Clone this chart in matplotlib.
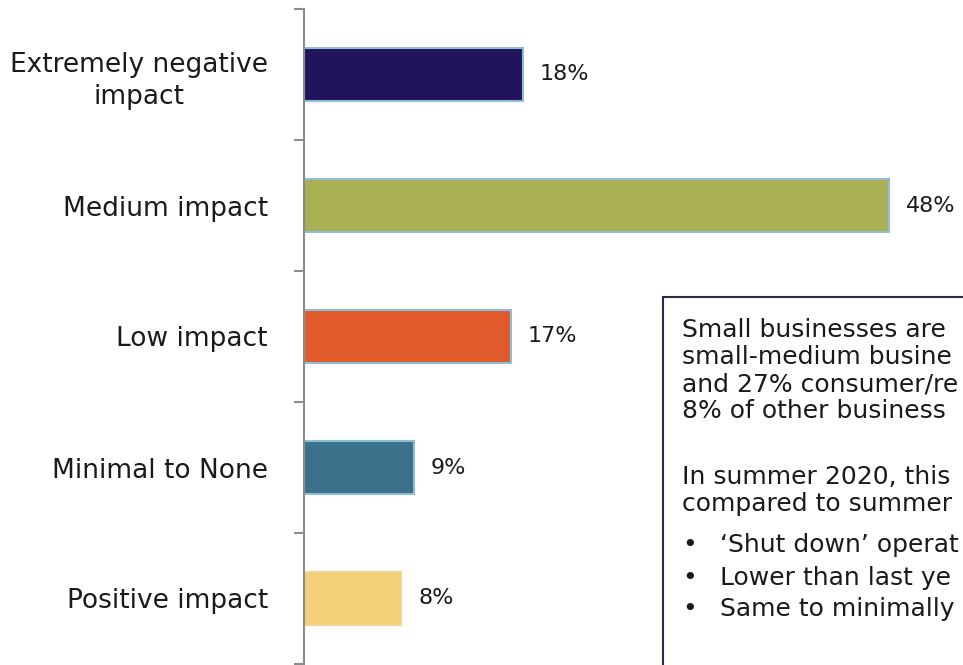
import matplotlib
matplotlib.use("Agg")
import matplotlib.pyplot as plt
from matplotlib.patches import Rectangle

categories = ["Extremely negative\nimpact", "Medium impact", "Low impact",
              "Minimal to None", "Positive impact"]
values = [18, 48, 17, 9, 8]
value_labels = ["18%", "48%", "17%", "9%", "8%"]
colors = ["#21135e", "#a8b053", "#e05a2b", "#3b728b", "#f2d07a"]
edges = ["#8fbcd6", "#8fbcd6", "#8fbcd6", "#8fbcd6", "#f2d58a"]

# text of the note box, as far as it is visible in the (cropped) reference
box_paragraph1 = ["Small businesses are", "small-medium busine",
                  "and 27% consumer/re", "8% of other business"]
box_paragraph2 = ["In summer 2020, this", "compared to summer"]
box_bullets = ["\u2018Shut down\u2019 operat", "Lower than last ye",
               "Same to minimally"]

FONT = "DejaVu Sans"
W, H = 963, 665
fig = plt.figure(figsize=(W / 100, H / 100), dpi=100)
ax = fig.add_axes([304 / W, 1 / H, 658 / W, 655 / H])

y = list(range(len(categories)))
ax.barh(y, values, height=0.4, color=colors, edgecolor=edges, linewidth=1.5)
for yi, v, lab in zip(y, values, value_labels):
    ax.annotate(lab, (v, yi), xytext=(12, 0), textcoords="offset points",
                ha="left", va="center", fontsize=16, family=FONT, color="#1a1a1a")

ax.set_xlim(0, 54)
ax.set_ylim(4.5, -0.5)
ax.set_yticks([i - 0.5 for i in range(len(categories) + 1)])
ax.set_yticklabels([])
ax.tick_params(axis="y", which="major", length=7, width=1.5, color="#8c8c8c")
ax.set_yticks(y, minor=True)
ax.set_yticklabels(categories, minor=True, fontsize=19, family=FONT,
                   color="#1a1a1a", multialignment="center", linespacing=1.3)
ax.tick_params(axis="y", which="minor", length=0, pad=26)
ax.set_xticks([])
for s in ["top", "right", "bottom"]:
    ax.spines[s].set_visible(False)
ax.spines["left"].set_color("#8c8c8c")
ax.spines["left"].set_linewidth(1.5)

# note box (extends beyond the figure edge, as in the reference)
fig.patches.append(Rectangle((663 / W, -0.1), 0.5, (H + 66 - 296) / H,
                             transform=fig.transFigure, fill=False,
                             edgecolor="#2a2a48", linewidth=1.5))

BFS = 18
tx = 682 / W
for t, yy in zip(box_paragraph1, [330, 357, 384, 411]):
    fig.text(tx, 1 - yy / H, t, fontsize=BFS, family=FONT, va="center",
             ha="left", color="#1a1a1a")
for t, yy in zip(box_paragraph2, [477, 504]):
    fig.text(tx, 1 - yy / H, t, fontsize=BFS, family=FONT, va="center",
             ha="left", color="#1a1a1a")
for t, yy in zip(box_bullets, [545, 578, 609]):
    fig.text(tx, 1 - yy / H, "\u2022", fontsize=BFS, family=FONT, va="center",
             ha="left", color="#1a1a1a")
    fig.text(720 / W, 1 - yy / H, t, fontsize=BFS, family=FONT, va="center",
             ha="left", color="#1a1a1a")

fig.savefig("out.png", dpi=100)
